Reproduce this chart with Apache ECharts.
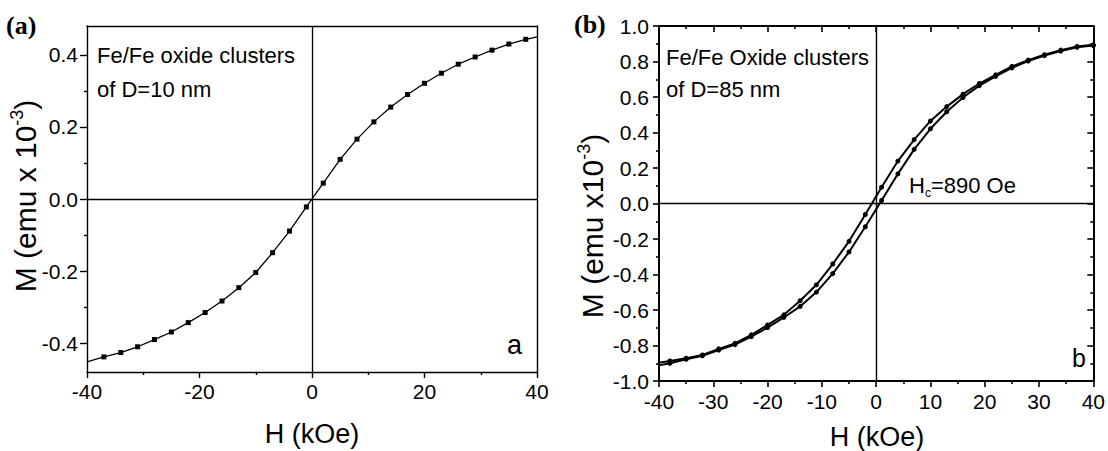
<!DOCTYPE html>
<html>
<head>
<meta charset="utf-8">
<script src="https://cdn.jsdelivr.net/npm/echarts@6/dist/echarts.min.js"></script>
<style>
  html, body { margin: 0; padding: 0; background: #fff; }
  #chart { width: 1108px; height: 451px; }
</style>
</head>
<body>
<div id="chart"></div>
<script>
// panel (a): D=10 nm clusters
const hA = [-40, -37, -34, -31, -28, -25, -22, -19, -16, -13, -10, -7, -4, -1, 2, 5, 8, 11, 14, 17, 20, 23, 26, 29, 32, 35, 38, 40];
const mA = [-0.452, -0.438, -0.426, -0.410, -0.390, -0.369, -0.343, -0.315, -0.283, -0.246, -0.204, -0.149, -0.089, -0.022,
            0.044, 0.110, 0.166, 0.214, 0.255, 0.290, 0.321, 0.349, 0.374, 0.394, 0.413, 0.430, 0.443, 0.450];
const yTicksA = [-0.4, -0.2, 0, 0.2, 0.4];
const yMinorA = [-0.3, -0.1, 0.1, 0.3];

// panel (b): D=85 nm clusters, two branches of the loop
const hB = [-40, -38, -35, -32, -29, -26, -23, -20, -17, -14, -11, -8, -5, -2, 1, 4, 7, 10, 13, 16, 19, 22, 25, 28, 31, 34, 37, 40];
const mBdown = [-0.897, -0.887, -0.872, -0.853, -0.819, -0.788, -0.740, -0.684, -0.627, -0.548, -0.458, -0.341, -0.213, -0.062,
                0.092, 0.239, 0.360, 0.465, 0.546, 0.616, 0.676, 0.725, 0.772, 0.808, 0.838, 0.864, 0.885, 0.894];
const mBup = [-0.912, -0.900, -0.878, -0.858, -0.826, -0.795, -0.750, -0.699, -0.642, -0.580, -0.499, -0.395, -0.273, -0.131,
              0.017, 0.167, 0.305, 0.421, 0.517, 0.597, 0.664, 0.716, 0.764, 0.803, 0.833, 0.859, 0.880, 0.890];

const FONT = 'Liberation Sans, Arial, sans-serif';

function pts(xs, ys, hideEnds){
  return xs.map((x, i) => {
    const p = { value: [x, ys[i]] };
    if (hideEnds && (x === -40 || (hideEnds === 2 && x === 40))) p.symbol = 'none';
    return p;
  });
}

const zeroLines = w => ({
  silent: true, symbol: 'none', label: { show: false }, animation: false,
  lineStyle: { color: '#000', width: w, type: 'solid' },
  data: [{ xAxis: 0 }, { yAxis: 0 }]
});

function frame(w){ return { show: true, onZero: false, lineStyle: { color: '#000', width: w } }; }

const chart = echarts.init(document.getElementById('chart'), null, { renderer: 'svg' });
chart.setOption({
  animation: false,
  grid: [
    { left: 87, top: 26, width: 450, height: 346 },
    { left: 659, top: 26, width: 437, height: 355 }
  ],
  xAxis: [
    { gridIndex: 0, type: 'value', min: -40, max: 40, interval: 20,
      axisLine: frame(1.4), splitLine: { show: false },
      axisTick: { length: 6, lineStyle: { color: '#000', width: 1.4 } },
      minorTick: { show: true, splitNumber: 2, length: 3, lineStyle: { color: '#000', width: 1.4 } },
      axisLabel: { color: '#000', fontSize: 21, fontFamily: FONT, margin: 9 } },
    { gridIndex: 0, type: 'value', position: 'top', min: -40, max: 40,
      axisLine: frame(1.4), axisTick: { show: false }, axisLabel: { show: false }, splitLine: { show: false } },
    { gridIndex: 1, type: 'value', min: -40, max: 40, interval: 10,
      axisLine: frame(2), splitLine: { show: false },
      axisTick: { length: 6, lineStyle: { color: '#000', width: 1.6 } },
      minorTick: { show: true, splitNumber: 2, length: 3, lineStyle: { color: '#000', width: 1.6 } },
      axisLabel: { color: '#000', fontSize: 21, fontFamily: FONT, margin: 10 } },
    { gridIndex: 1, type: 'value', position: 'top', min: -40, max: 40, interval: 10,
      axisLine: frame(2), splitLine: { show: false }, axisLabel: { show: false },
      axisTick: { inside: true, length: 6, lineStyle: { color: '#000', width: 1.6 } },
      minorTick: { show: true, splitNumber: 2, length: 3, lineStyle: { color: '#000', width: 1.6 } } }
  ],
  yAxis: [
    { gridIndex: 0, type: 'value', min: -0.48, max: 0.48,
      axisLine: frame(1.4), splitLine: { show: false },
      axisTick: { length: 7, customValues: yTicksA, lineStyle: { color: '#000', width: 1.4 } },
      axisLabel: { color: '#000', fontSize: 21, fontFamily: FONT, margin: 9, customValues: yTicksA,
                   formatter: v => v.toFixed(1) } },
    { gridIndex: 0, type: 'value', min: -0.48, max: 0.48, position: 'left',
      axisLine: { show: false, onZero: false }, splitLine: { show: false }, axisLabel: { show: false },
      axisTick: { length: 3, customValues: yMinorA, lineStyle: { color: '#000', width: 1.4 } } },
    { gridIndex: 0, type: 'value', min: -0.48, max: 0.48, position: 'right',
      axisLine: frame(1.4), axisTick: { show: false }, axisLabel: { show: false }, splitLine: { show: false } },
    { gridIndex: 1, type: 'value', min: -1, max: 1, interval: 0.2,
      axisLine: frame(2), splitLine: { show: false },
      axisTick: { length: 6, lineStyle: { color: '#000', width: 1.6 } },
      minorTick: { show: true, splitNumber: 2, length: 3, lineStyle: { color: '#000', width: 1.6 } },
      axisLabel: { color: '#000', fontSize: 21, fontFamily: FONT, margin: 10, formatter: v => v.toFixed(1) } },
    { gridIndex: 1, type: 'value', min: -1, max: 1, interval: 0.2, position: 'right',
      axisLine: frame(2), splitLine: { show: false }, axisLabel: { show: false },
      axisTick: { inside: true, length: 6, lineStyle: { color: '#000', width: 1.6 } },
      minorTick: { show: true, splitNumber: 2, length: 3, lineStyle: { color: '#000', width: 1.6 } } }
  ],
  series: [
    { type: 'line', xAxisIndex: 0, yAxisIndex: 0, data: pts(hA, mA, 2),
      symbol: 'rect', symbolSize: 5, itemStyle: { color: '#000' },
      lineStyle: { color: '#000', width: 1.3 }, markLine: zeroLines(1.3) },
    { type: 'line', xAxisIndex: 2, yAxisIndex: 3, data: pts(hB, mBdown, 1),
      symbol: 'circle', symbolSize: 5, itemStyle: { color: '#000' },
      lineStyle: { color: '#000', width: 2 }, markLine: zeroLines(1.4) },
    { type: 'line', xAxisIndex: 2, yAxisIndex: 3, data: pts(hB, mBup, 1),
      symbol: 'circle', symbolSize: 5, itemStyle: { color: '#000' },
      lineStyle: { color: '#000', width: 2 } }
  ],
  graphic: [
    { type: 'text', x: 6, y: 25, style: { text: '(a)', fontSize: 26, fontWeight: 'bold', fontFamily: 'Liberation Serif, serif', fill: '#000', verticalAlign: 'middle' } },
    { type: 'text', x: 574, y: 24, style: { text: '(b)', fontSize: 26, fontWeight: 'bold', fontFamily: 'Liberation Serif, serif', fill: '#000', verticalAlign: 'middle' } },
    { type: 'text', x: 97, y: 66, style: { text: 'Fe/Fe oxide clusters', fontSize: 22, fontFamily: FONT, fill: '#000', verticalAlign: 'bottom' } },
    { type: 'text', x: 97, y: 100, style: { text: 'of D=10 nm', fontSize: 22, fontFamily: FONT, fill: '#000', verticalAlign: 'bottom' } },
    { type: 'text', x: 666, y: 68, style: { text: 'Fe/Fe Oxide clusters', fontSize: 22, fontFamily: FONT, fill: '#000', verticalAlign: 'bottom' } },
    { type: 'text', x: 666, y: 100, style: { text: 'of D=85 nm', fontSize: 22, fontFamily: FONT, fill: '#000', verticalAlign: 'bottom' } },
    { type: 'text', x: 909, y: 185, style: { text: 'H{s|c}=890 Oe', fontSize: 22, fontFamily: FONT, fill: '#000', verticalAlign: 'middle',
        rich: { s: { fontSize: 12, fontFamily: FONT, padding: [15, 0, 0, 0] } } } },
    { type: 'text', x: 507, y: 345, style: { text: 'a', fontSize: 27, fontFamily: FONT, fill: '#000', verticalAlign: 'middle' } },
    { type: 'text', x: 1072, y: 358, style: { text: 'b', fontSize: 25, fontFamily: FONT, fill: '#000', verticalAlign: 'middle' } },
    { type: 'text', x: 312, y: 434, style: { text: 'H (kOe)', fontSize: 27, fontFamily: FONT, fill: '#000', align: 'center', verticalAlign: 'middle' } },
    { type: 'text', x: 877, y: 437, style: { text: 'H (kOe)', fontSize: 27, fontFamily: FONT, fill: '#000', align: 'center', verticalAlign: 'middle' } },
    { type: 'text', x: 25, y: 196, rotation: Math.PI / 2,
      style: { text: 'M (emu x 10{s|-3})', fontSize: 30, fontFamily: FONT, fill: '#000', align: 'center', verticalAlign: 'middle',
        rich: { s: { fontSize: 18, fontFamily: FONT, padding: [0, 0, 17, 0] } } } },
    { type: 'text', x: 592, y: 226, rotation: Math.PI / 2,
      style: { text: 'M (emu x10{s|-3})', fontSize: 30, fontFamily: FONT, fill: '#000', align: 'center', verticalAlign: 'middle',
        rich: { s: { fontSize: 18, fontFamily: FONT, padding: [0, 0, 17, 0] } } } }
  ]
});
window.addEventListener('resize', () => chart.resize());
</script>
</body>
</html>
